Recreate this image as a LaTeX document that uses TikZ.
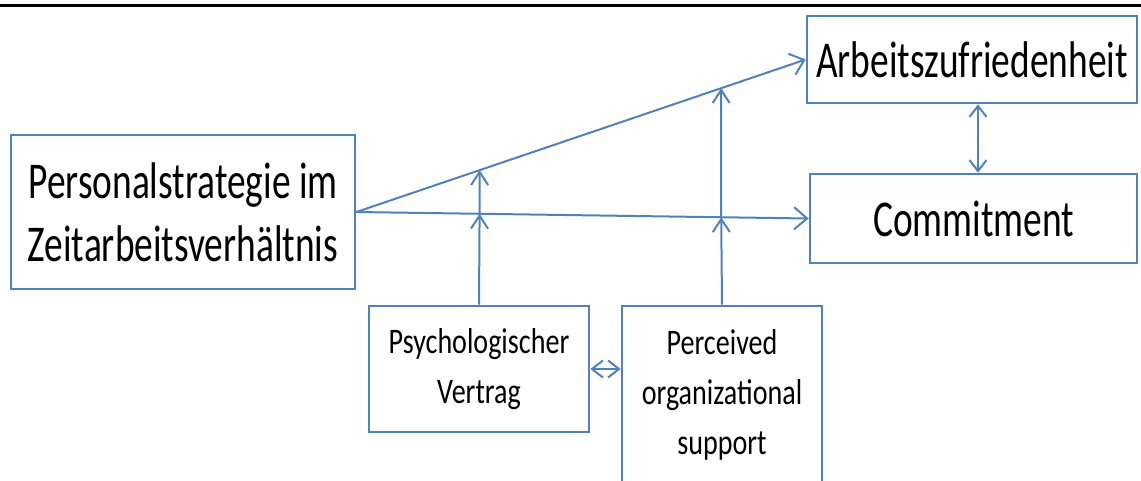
\documentclass[tikz,border=0pt]{standalone}
\usepackage{fontspec}
\setmainfont{Carlito}
\newfontfamily\bigfont[FakeStretch=0.725]{Carlito}
\newfontfamily\smallfont[FakeStretch=0.78]{Carlito}
\usetikzlibrary{arrows.meta,calc}
\definecolor{boxblue}{RGB}{79,129,189}
\begin{document}
\begin{tikzpicture}[x=1pt,y=-1pt,
  box/.style={draw=boxblue, line width=2.6pt, inner sep=0pt, align=center, text=black},
  bigtxt/.style={font=\bigfont\fontsize{51.6}{63}\selectfont},
  smalltxt/.style={font=\smallfont\fontsize{36}{50}\selectfont},
  conn/.style={draw=boxblue, line width=2pt},
  arr/.style={conn, -{Straight Barb[length=13pt,width=22pt]}},
  varr/.style={conn, -{Straight Barb[length=13pt,width=17pt]}},
  darr/.style={conn, {Straight Barb[length=11pt,width=17pt]}-{Straight Barb[length=11pt,width=17pt]}}
]
\useasboundingbox (0,0) rectangle (1141,480);
\clip (0,0) rectangle (1141,480);
\draw[line width=3pt] (0,5) -- (1141,5);

\node[box, bigtxt, minimum width=344pt, minimum height=154pt] (pers) at (183,212) {Personalstrategie im\\Zeitarbeitsverhältnis};
\node[box, bigtxt, minimum width=330pt, minimum height=87pt] (arb) at (972,59.5) {Arbeitszufriedenheit};
\node[box, bigtxt, minimum width=327pt, minimum height=89pt] (com) at (973.5,218.5) {Commitment};
\node[box, smalltxt, minimum width=220pt, minimum height=126pt] (psy) at (479,369) {Psychologischer\\Vertrag};
\node[box, smalltxt, minimum width=200pt, minimum height=177pt] (per) at (722,394.5) {Perceived\\organizational\\support};

\draw[arr] (pers.east) -- (arb.west);
\draw[arr] (pers.east) -- (com.west);

\coordinate (lo1) at ($(pers.east)!0.2725!(com.west)$);
\coordinate (up1) at ($(pers.east)!0.2743!(arb.west)$);
\coordinate (lo2) at ($(pers.east)!0.8066!(com.west)$);
\coordinate (up2) at ($(pers.east)!0.8119!(arb.west)$);

\draw[varr] (psy.north) -- (lo1);
\draw[varr] (lo1) -- (up1);
\draw[varr] (per.north) -- (lo2);
\draw[varr] (lo2) -- (up2);

\draw[darr] (psy.east) -- (psy.east -| per.west);
\coordinate (ax) at (978,0);
\draw[darr] (arb.south -| ax) -- (com.north -| ax);
\end{tikzpicture}
\end{document}
